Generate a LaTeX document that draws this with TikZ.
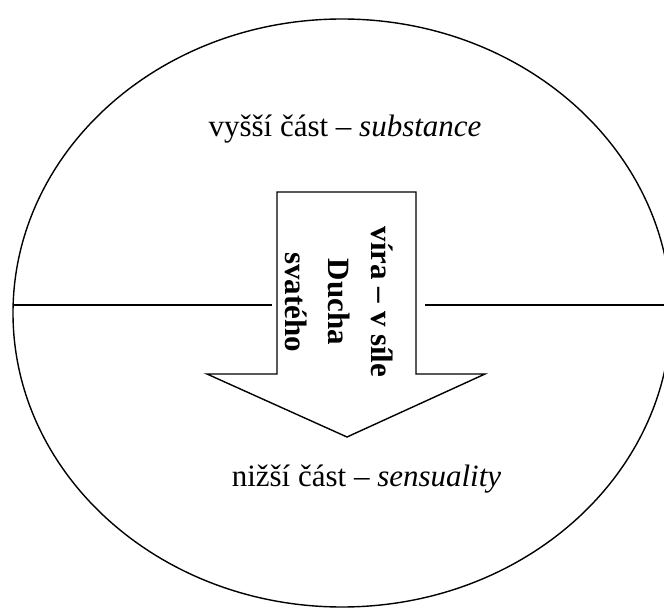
\documentclass[tikz,border=0pt]{standalone}
\usepackage{fontspec}
\setmainfont{Liberation Serif}
\usetikzlibrary{shapes.geometric}
\begin{document}
\begin{tikzpicture}[x=1pt,y=1pt,
  ln/.style={line width=1.4pt, line join=miter},
  lbl/.style={font=\fontsize{31}{36}\selectfont, inner sep=0pt, anchor=base},
  faithtxt/.style={font=\fontsize{31}{43}\selectfont\bfseries, align=center, rotate=-90, inner sep=0pt}]
\clip (0,0) rectangle (664,608);
\node[ln, draw, ellipse, minimum width=658pt, minimum height=588pt, inner sep=0pt, outer sep=0pt] (ell) at (342,295) {};
\coordinate (lineL) at (272,303);
\coordinate (lineR) at (425,303);
\draw[ln] ([yshift=8pt]ell.west) -- (lineL);
\draw[ln] (lineR) -- ([yshift=8pt]ell.east);
\coordinate (a1) at (277,416);
\coordinate (a2) at (416,416);
\coordinate (a3) at (416,234);
\coordinate (a4) at (485,234);
\coordinate (tip) at (347,171);
\coordinate (a6) at (207,234);
\coordinate (a7) at (277,234);
\draw[ln, fill=white] (a1) -- (a2) -- (a3) -- (a4) -- (tip) -- (a6) -- (a7) -- cycle;
\node[faithtxt] (faith) at (339,306) {víra – v síle\\Ducha\\svatého};
\node[lbl] (upper) at (345,471) {vyšší část – \textit{substance}};
\node[lbl] (lower) at (366.5,121) {nižší část – \textit{sensuality}};
\end{tikzpicture}
\end{document}
